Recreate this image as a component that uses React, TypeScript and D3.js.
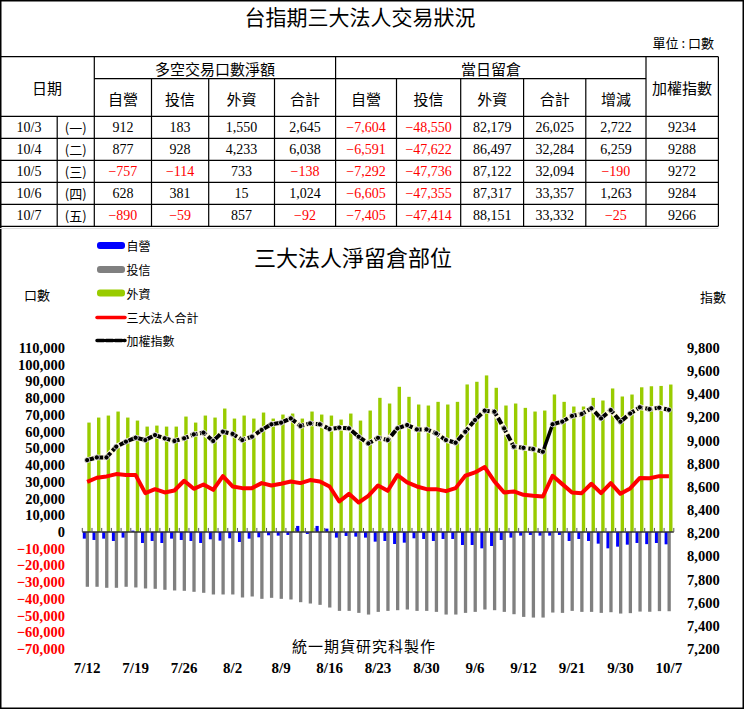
import React from "react";
import * as d3 from "d3";

// table (last 5 trading days)
const tableDates = ["10/3", "10/4", "10/5", "10/6", "10/7"];
const weekdays = ["(一)", "(二)", "(三)", "(四)", "(五)"];
const netDealer = [912, 877, -757, 628, -890];
const netTrust = [183, 928, -114, 381, -59];
const netForeign = [1550, 4233, 733, 15, 857];
const netTotal = [2645, 6038, -138, 1024, -92];
const oiDealer = [-7604, -6591, -7292, -6605, -7405];
const oiTrust = [-48550, -47622, -47736, -47355, -47414];
const oiForeign = [82179, 86497, 87122, 87317, 88151];
const oiTotal = [26025, 32284, 32094, 33357, 33332];
const oiChange = [2722, 6259, -190, 1263, -25];
const indexCol = [9234, 9288, 9272, 9284, 9266];

// chart
const dates = [
  "7/12", "7/13", "7/14", "7/15", "7/18", "7/19", "7/20", "7/21", "7/22", "7/25",
  "7/26", "7/27", "7/28", "7/29", "8/1", "8/2", "8/3", "8/4", "8/5", "8/8",
  "8/9", "8/10", "8/11", "8/12", "8/15", "8/16", "8/17", "8/18", "8/19", "8/22",
  "8/23", "8/24", "8/25", "8/26", "8/29", "8/30", "8/31", "9/1", "9/2", "9/5",
  "9/6", "9/7", "9/8", "9/9", "9/10", "9/12", "9/13", "9/14", "9/19", "9/20",
  "9/21", "9/22", "9/23", "9/26", "9/29", "9/30", "10/3", "10/4", "10/5", "10/6",
  "10/7",
];
const dealer = [
  -4000, -4800, -4000, -5400, -3400, 800, -6600, -5400, -6600, -4000,
  -4800, -5400, -6600, -4400, -5200, -3800, -6000, -4000, -3200, -2000,
  -2200, -1800, 3600, -1200, 3600, 2000, -3400, -2400, -2800, -3400,
  -5800, -5400, -7200, -6400, -3800, -4200, -5400, -4200, -4200, -7800,
  -7800, -9800, -8400, -4800, -3400, -2200, -1800, -2200, -2200, -1800,
  -5400, -4200, -5400, -7000, -9800, -8800, -7604, -6591, -7292, -6605,
  -7405,
];
const trust = [
  -32800, -32800, -33400, -33400, -32800, -33200, -33800, -34000, -34600, -35000,
  -35200, -35800, -36400, -37400, -37400, -37400, -39200, -38600, -40000, -39400,
  -40000, -40400, -42000, -42800, -43600, -45200, -47200, -47200, -48400, -49400,
  -47800, -47200, -46800, -46400, -47200, -47200, -47800, -49400, -49400, -48400,
  -47800, -46400, -46800, -47800, -49200, -50800, -51200, -51200, -48200, -48400,
  -47200, -47800, -47800, -48400, -48000, -48800, -48550, -47622, -47736, -47355,
  -47414,
];
const foreign = [
  65400, 68400, 69600, 72000, 68400, 66600, 63000, 63600, 63000, 63000,
  69000, 65400, 69600, 68400, 73800, 67800, 69600, 67800, 71400, 67800,
  70200, 70800, 67800, 72000, 70200, 69600, 67200, 70800, 66600, 72600,
  80200, 76800, 86800, 80800, 76200, 75600, 77800, 76200, 77800, 88200,
  89800, 93600, 86200, 75600, 76800, 74200, 72000, 72600, 82200, 77800,
  75000, 75000, 80200, 78600, 85800, 81000, 82179, 86497, 87122, 87317,
  88151,
];
const total = [
  30000, 32400, 33200, 34600, 34000, 34000, 23200, 25600, 23600, 24800,
  30600, 25800, 28400, 25200, 33400, 27200, 26200, 26200, 29200, 27800,
  28800, 30200, 29200, 31000, 30200, 27200, 18200, 22800, 17600, 21600,
  27800, 24600, 34000, 29600, 27200, 25600, 25600, 24400, 26200, 33600,
  35600, 38800, 30200, 23600, 24200, 22200, 21600, 21200, 33600, 28600,
  23600, 23200, 28800, 23200, 29200, 22800, 26025, 32284, 32094, 33357,
  33332,
];
const taiex = [
  8832, 8855, 8855, 8948, 8991, 9025, 9005, 9048, 9020, 8997,
  9020, 9054, 9069, 8997, 9077, 9058, 9005, 9034, 9092, 9141,
  9155, 9192, 9126, 9149, 9141, 9100, 9112, 9106, 9034, 8976,
  9024, 9005, 9106, 9135, 9097, 9097, 9063, 9005, 8982, 9077,
  9178, 9259, 9250, 9106, 8948, 8938, 8927, 8904, 9141, 9164,
  9213, 9230, 9279, 9192, 9264, 9164, 9234, 9288, 9272, 9284,
  9266,
];
// the 9/14 -> 9/19 jump is drawn as a plain solid segment in the original
const solidGap = [47, 48];
const leftTicks = d3.range(-70000, 110001, 10000);
const rightTicks = d3.range(7200, 9801, 200);

const cjk = "'Noto Sans CJK TC', sans-serif";
const serif = "'Liberation Serif', 'Times New Roman', serif";
const fmt = d3.format(",");

const App: React.FC = () => {
  const x = d3.scaleBand<number>()
    .domain(d3.range(dates.length))
    .range([82.3, 673.8])
    .padding(0);
  const bw = x.bandwidth();
  const yL = d3.scaleLinear().domain([-70000, 110000]).range([649, 348]);
  const yR = d3.scaleLinear().domain([7200, 9800]).range([649, 348]);
  const y0 = yL(0);
  const cx = (i: number) => x(i)! + bw / 2;

  const redLine = d3.line<number>().x((_, i) => cx(i)).y(d => yL(d));
  const blackLine = d3.line<number>()
    .defined((_, i) => i !== solidGap[1])
    .x((_, i) => cx(i)).y(d => yR(d));
  const blackLine2 = d3.line<number>()
    .defined((_, i) => i >= solidGap[1])
    .x((_, i) => cx(i)).y(d => yR(d));

  // table geometry
  const colX = [0, 57.2, 94.3, 151.5, 208.7, 274.5, 335.6, 396.5, 460.7, 523.6, 585.8, 646, 718.4];
  const rowTop = 116.3;
  const rowH = 22;
  const cols = [netDealer, netTrust, netForeign, netTotal, oiDealer, oiTrust, oiForeign, oiTotal, oiChange];
  const subHeads = ["自營", "投信", "外資", "合計", "自營", "投信", "外資", "合計", "增減"];

  return (
    <svg width={746} height={712} style={{ position: "absolute", left: 0, top: 0, background: "#fff" }}>
      <rect x={0.75} y={0.75} width={742.5} height={707.5} fill="#fff" stroke="#000" strokeWidth={1.5} />

      {/* table */}
      <text x={360} y={25} textAnchor="middle" fontFamily={cjk} fontSize={21} fill="#000">台指期三大法人交易狀況</text>
      <text x={714} y={48} textAnchor="end" fontFamily={cjk} fontSize={13} fill="#000">單位 : 口數</text>
      <g stroke="#000" strokeWidth={1.2}>
        <line x1={0} x2={718.4} y1={56.7} y2={56.7} />
        <line x1={94.3} x2={646} y1={78.7} y2={78.7} />
        {d3.range(6).map(r => (
          <line key={r} x1={0} x2={718.4} y1={rowTop + r * rowH} y2={rowTop + r * rowH} />
        ))}
        {colX.map((cxv, i) => (
          <line key={i} x1={cxv} x2={cxv}
            y1={i === 1 ? rowTop : i >= 3 && i <= 10 && i !== 6 ? 78.7 : 56.7}
            y2={rowTop + 5 * rowH} />
        ))}
      </g>
      <line x1={0} x2={718.4} y1={228.5} y2={228.5} stroke="#ddd" strokeWidth={1} />
      <text x={47} y={87} textAnchor="middle" dominantBaseline="central" fontFamily={cjk} fontSize={15}>日期</text>
      <text x={215} y={68} textAnchor="middle" dominantBaseline="central" fontFamily={cjk} fontSize={15}>多空交易口數淨額</text>
      <text x={491} y={68} textAnchor="middle" dominantBaseline="central" fontFamily={cjk} fontSize={15}>當日留倉</text>
      <text x={682} y={87} textAnchor="middle" dominantBaseline="central" fontFamily={cjk} fontSize={15}>加權指數</text>
      {subHeads.map((h, i) => (
        <text key={i} x={(colX[i + 2] + colX[i + 3]) / 2} y={98} textAnchor="middle" dominantBaseline="central"
          fontFamily={cjk} fontSize={15}>{h}</text>
      ))}
      {tableDates.map((d, r) => {
        const ym = rowTop + r * rowH + rowH / 2;
        return (
          <g key={r}>
            <text x={29} y={ym} textAnchor="middle" dominantBaseline="central" fontFamily={serif} fontSize={14}>{d}</text>
            <text x={75.7} y={ym} textAnchor="middle" dominantBaseline="central" fontFamily={cjk} fontSize={13}>{weekdays[r]}</text>
            {cols.map((c, j) => (
              <text key={j} x={(colX[j + 2] + colX[j + 3]) / 2} y={ym} textAnchor="middle" dominantBaseline="central"
                fontFamily={serif} fontSize={14} fill={c[r] < 0 ? "#ff0000" : "#000"}>{fmt(c[r])}</text>
            ))}
            <text x={682} y={ym} textAnchor="middle" dominantBaseline="central" fontFamily={serif} fontSize={14}>{indexCol[r]}</text>
          </g>
        );
      })}

      {/* chart title and legend */}
      <text x={353} y={266} textAnchor="middle" fontFamily={cjk} fontSize={22}>三大法人淨留倉部位</text>
      <text x={37} y={300} textAnchor="middle" fontFamily={cjk} fontSize={13}>口數</text>
      <text x={713} y={302} textAnchor="middle" fontFamily={cjk} fontSize={13}>指數</text>
      {[
        { label: "自營", color: "#0000ff", kind: "bar" },
        { label: "投信", color: "#808080", kind: "bar" },
        { label: "外資", color: "#99cc00", kind: "bar" },
        { label: "三大法人合計", color: "#ff0000", kind: "line" },
        { label: "加權指數", color: "#000", kind: "dash" },
      ].map((l, i) => {
        const ly = [245.5, 269.5, 293, 317.5, 340.5][i];
        return (
          <g key={i}>
            {l.kind === "bar" ? (
              <rect x={97} y={ly - 3.5} width={28} height={7} rx={3} fill={l.color} />
            ) : (
              <line x1={97} x2={125} y1={ly} y2={ly} stroke={l.color} strokeWidth={3.5}
                strokeDasharray={l.kind === "dash" ? "7,2" : undefined} strokeLinecap="round" />
            )}
            <text x={126.5} y={ly} dominantBaseline="central" fontFamily={cjk} fontSize={12}>{l.label}</text>
          </g>
        );
      })}

      {/* axes labels */}
      {leftTicks.map(t => (
        <text key={t} x={65} y={yL(t)} textAnchor="end" dominantBaseline="central" fontFamily={serif}
          fontWeight="bold" fontSize={14.5} fill={t < 0 ? "#ff0000" : "#000"}>{fmt(t)}</text>
      ))}
      {rightTicks.map(t => (
        <text key={t} x={687} y={yR(t)} dominantBaseline="central" fontFamily={serif}
          fontWeight="bold" fontSize={14.5} fill="#000">{fmt(t)}</text>
      ))}
      {dates.map((d, i) => i % 5 === 0 ? (
        <text key={i} x={cx(i)} y={673} textAnchor="middle" fontFamily={serif} fontWeight="bold" fontSize={15}>{d}</text>
      ) : null)}

      {/* bars */}
      {dates.map((_, i) => {
        const b0 = x(i)!;
        return (
          <g key={i}>
            <rect x={b0 + 5} width={3.4} y={yL(Math.max(0, foreign[i]))} height={Math.abs(yL(foreign[i]) - y0)} fill="#99cc00" />
            <rect x={b0 + 0.5} width={3.2} y={yL(Math.max(0, dealer[i]))} height={Math.abs(yL(dealer[i]) - y0)} fill="#0000ff" />
            <rect x={b0 + 3.4} width={3.3} y={yL(Math.max(0, trust[i]))} height={Math.abs(yL(trust[i]) - y0)} fill="#808080" />
          </g>
        );
      })}
      <line x1={82.3} x2={673.8} y1={y0} y2={y0} stroke="#333" strokeWidth={1.5} />
      {d3.range(dates.length + 1).map(i => {
        const tx = 82.3 + i * bw;
        return <line key={i} x1={tx} x2={tx} y1={y0 - 4} y2={y0} stroke="#555" strokeWidth={1} />;
      })}

      {/* lines */}
      <path d={redLine(total)!} fill="none" stroke="#ff0000" strokeWidth={4} strokeLinejoin="round" />
      <line x1={cx(solidGap[0])} x2={cx(solidGap[1])} y1={yR(taiex[solidGap[0]])} y2={yR(taiex[solidGap[1]])}
        stroke="#000" strokeWidth={3.5} />
      {[blackLine(taiex.slice(0, solidGap[1]).concat([NaN])), blackLine2(taiex)].map((d, k) => (
        <g key={k}>
          <path d={d!} fill="none" stroke="#fffbe0" strokeWidth={5.5} strokeLinejoin="round" />
          <path d={d!} fill="none" stroke="#000" strokeWidth={4} strokeDasharray="7,2.5" strokeLinejoin="round" />
        </g>
      ))}
      {taiex.map((v, i) => (
        <circle key={i} cx={cx(i)} cy={yR(v)} r={2.6} fill="#000" stroke="#eee" strokeWidth={0.8} />
      ))}

      <text x={364} y={652} textAnchor="middle" fontFamily={cjk} fontSize={15} letterSpacing={1}>統一期貨研究科製作</text>
    </svg>
  );
};

export default App;
